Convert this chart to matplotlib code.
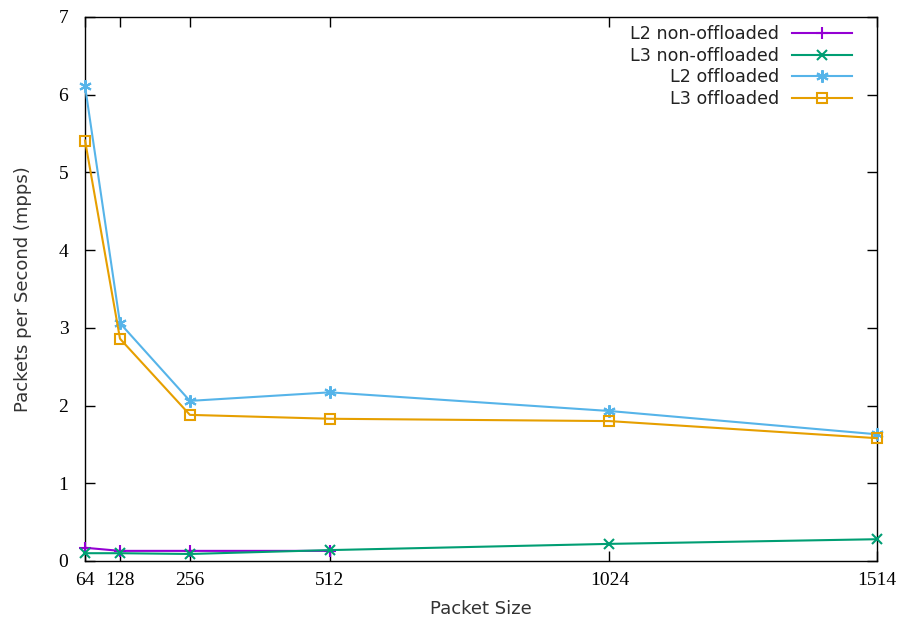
import matplotlib
matplotlib.use("Agg")
import matplotlib.pyplot as plt

# Packet sizes (bytes) and measured throughput (million packets per second)
packet_sizes = [64, 128, 256, 512, 1024, 1514]
l2_non_offloaded = [0.17, 0.13, 0.13, 0.13]
l3_non_offloaded = [0.10, 0.10, 0.09, 0.14, 0.22, 0.28]
l2_offloaded = [6.11, 3.06, 2.06, 2.17, 1.93, 1.63]
l3_offloaded = [5.41, 2.86, 1.88, 1.83, 1.80, 1.58]
y_ticks = [0, 1, 2, 3, 4, 5, 6, 7]

fig = plt.figure(figsize=(8.98, 6.24), dpi=100)
ax = fig.add_axes([0.0947, 0.101, 0.8819, 0.8718])

sans = "DejaVu Sans"
serif = "Liberation Serif"

common = dict(lw=1.5, mew=1.5, clip_on=False, zorder=3)
ax.plot(packet_sizes[:len(l2_non_offloaded)], l2_non_offloaded, color="#9400d3",
        marker="+", markersize=9, label="L2 non-offloaded", **common)
ax.plot(packet_sizes, l3_non_offloaded, color="#009e73",
        marker="x", markersize=7, label="L3 non-offloaded", **common)
ax.plot(packet_sizes, l2_offloaded, color="#56b4e9",
        marker=(6, 2, 0), markersize=9, label="L2 offloaded", **common)
ax.plot(packet_sizes, l3_offloaded, color="#e69f00",
        marker="s", markersize=7, mfc="none", label="L3 offloaded", **common)

ax.set_xlim(64, 1514)
ax.set_ylim(0, 7)
ax.set_xticks(packet_sizes)
ax.set_xticklabels([str(v) for v in packet_sizes], fontfamily=serif, fontsize=14)
ax.set_yticks(y_ticks)
ax.set_yticklabels([str(v) for v in y_ticks], fontfamily=serif, fontsize=14)
ax.tick_params(direction="in", length=7, width=1, top=True, right=True,
               colors="black")
ax.tick_params(axis="x", pad=8)
ax.tick_params(axis="y", pad=12)

for s in ax.spines.values():
    s.set_linewidth(1.0)
    s.set_color("black")

ax.set_xlabel("Packet Size", fontfamily=sans, fontsize=13, color="#333333", labelpad=8)
ax.set_ylabel("Packets per Second (mpps)", fontfamily=sans, fontsize=13,
              color="#333333", labelpad=19)

leg = ax.legend(loc="upper right", bbox_to_anchor=(0.9735, 0.9926), frameon=False,
                markerfirst=False, prop={"family": sans, "size": 12.6},
                handlelength=3.4, labelspacing=0.2, borderaxespad=0.0,
                borderpad=0.25, handletextpad=0.75)
for t in leg.get_texts():
    t.set_ha("right")
    t.set_color("#222222")

fig.savefig("out.png", dpi=100)
